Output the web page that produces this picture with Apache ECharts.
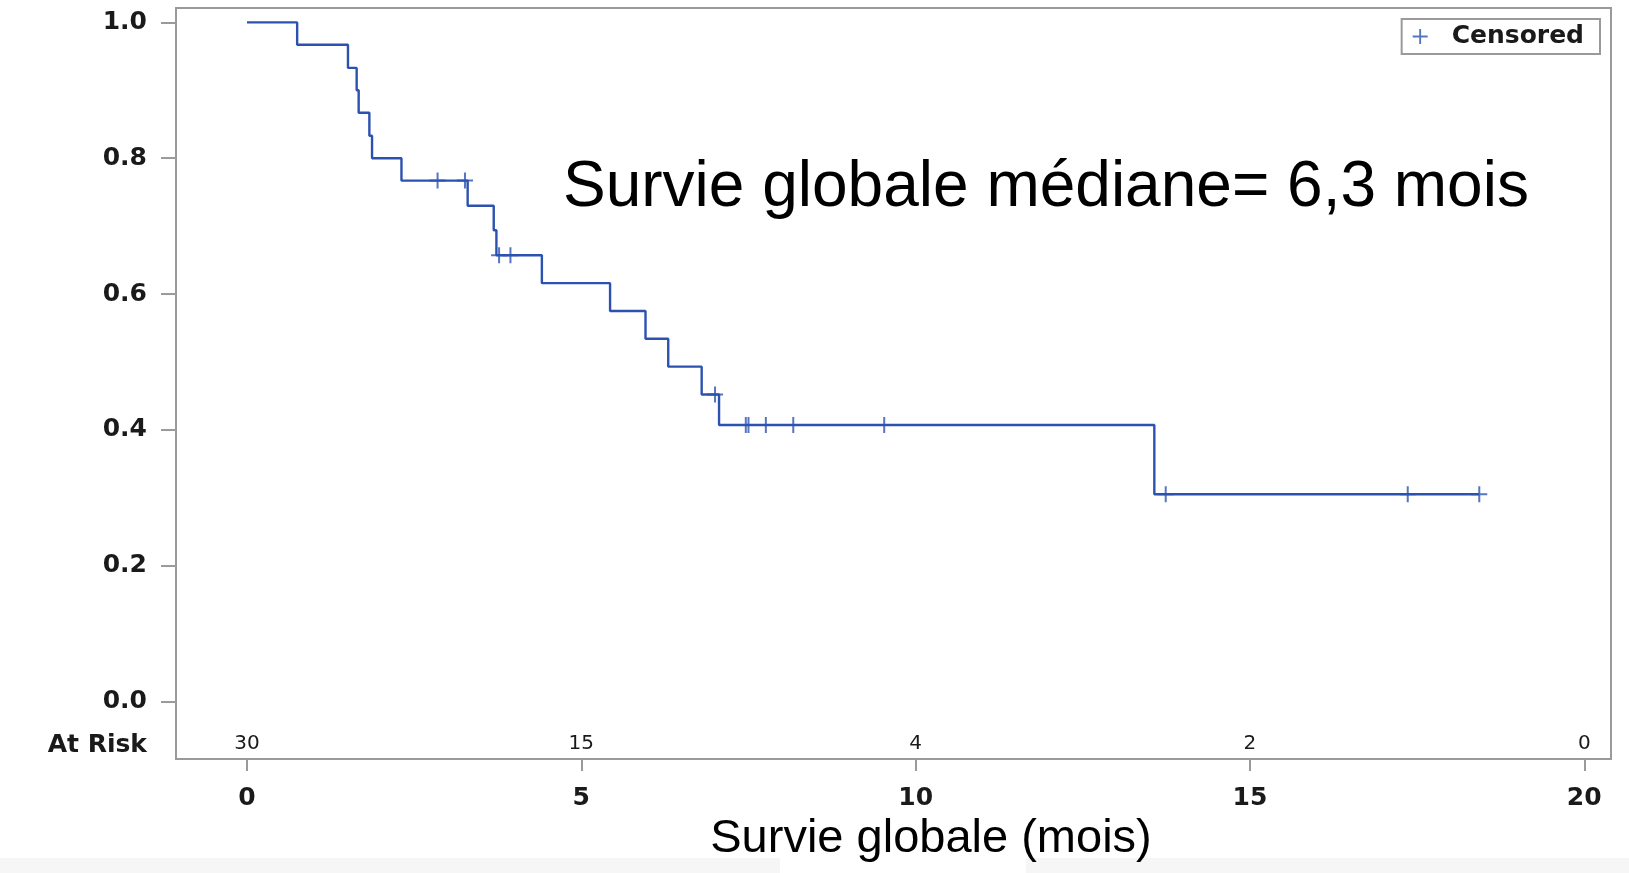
<!DOCTYPE html>
<html>
<head>
<meta charset="utf-8">
<script src="https://cdn.jsdelivr.net/npm/echarts@6/dist/echarts.min.js"></script>
<style>
  html, body { margin: 0; padding: 0; background: #ffffff; }
  #chart { width: 1629px; height: 873px; }
</style>
</head>
<body>
<div id="chart"></div>
<script>
// Kaplan-Meier step curve: event times (months) and survival after each event
const eventTimes    = [0, 0.75, 1.51, 1.64, 1.67, 1.83, 1.87, 2.31, 3.30, 3.69, 3.73, 4.41, 5.43, 5.96, 6.30, 6.80, 7.06, 13.57, 18.43];
const eventSurvival = [1.000, 0.967, 0.933, 0.900, 0.867, 0.833, 0.800, 0.767, 0.730, 0.694, 0.657, 0.616, 0.575, 0.534, 0.493, 0.452, 0.407, 0.305, 0.305];

// Censored observations
const censorTimes    = [2.85, 3.26, 3.77, 3.94, 7.00, 7.46, 7.50, 7.76, 8.17, 9.53, 13.74, 17.36, 18.43];
const censorSurvival = [0.767, 0.767, 0.657, 0.657, 0.452, 0.407, 0.407, 0.407, 0.407, 0.407, 0.305, 0.305, 0.305];

// Number at risk
const atRiskTimes  = [0, 5, 10, 15, 20];
const atRiskCounts = [30, 15, 4, 2, 0];

// Axis ticks
const xTicks = [0, 5, 10, 15, 20];
const yTicks = [0, 0.2, 0.4, 0.6, 0.8, 1.0];

const annotationText = 'Survie globale médiane= 6,3 mois';
const xAxisTitle = 'Survie globale (mois)';
const atRiskTitle = 'At Risk';
const censorName = 'Censored';

const lineColor = '#2c52b0';
const frameColor = '#9a9a9a';
const plusPath = 'path://M7,0H9V7H16V9H9V16H7V9H0V7H7Z';

const kmData = eventTimes.map((t, i) => [t, eventSurvival[i]]);
const censorData = censorTimes.map((t, i) => [t, censorSurvival[i]]);

const chart = echarts.init(document.getElementById('chart'), null, { renderer: 'canvas' });

const tickFont = { fontFamily: 'DejaVu Sans', fontSize: 25, fontWeight: 'bold', color: '#1a1a1a' };

chart.setOption({
  animation: false,
  backgroundColor: '#ffffff',
  grid: {
    left: 176, right: 18, top: 8, bottom: 114,
    show: true, borderColor: frameColor, borderWidth: 2, backgroundColor: 'transparent'
  },
  legend: {
    data: [censorName],
    right: 29, top: 19,
    icon: plusPath,
    itemWidth: 15, itemHeight: 15,
    padding: [5, 16, 5, 11],
    borderColor: frameColor, borderWidth: 2,
    selectedMode: false,
    textStyle: Object.assign({}, tickFont, { padding: [0, 0, 0, 19], lineHeight: 25 })
  },
  xAxis: [
    {
      type: 'value',
      min: -1.062, max: 20.40,
      position: 'bottom',
      axisLine: { show: false, onZero: false },
      splitLine: { show: false },
      axisTick: { show: true, length: 12, customValues: xTicks, lineStyle: { color: frameColor, width: 2 } },
      axisLabel: Object.assign({ customValues: xTicks, margin: 27 }, tickFont),
      name: xAxisTitle,
      nameLocation: 'middle',
      nameGap: 57,
      nameTextStyle: { fontFamily: 'Liberation Sans', fontSize: 47, color: '#000', padding: [0, 0, 0, 75] }
    },
    {
      type: 'value',
      min: -1.062, max: 20.40,
      position: 'bottom',
      offset: 0,
      axisLine: { show: false, onZero: false },
      splitLine: { show: false },
      axisTick: { show: false },
      axisLabel: {
        inside: true,
        customValues: atRiskTimes,
        margin: 5,
        fontFamily: 'DejaVu Sans', fontSize: 20, color: '#1a1a1a',
        formatter: function (v) {
          const idx = atRiskTimes.indexOf(v);
          return idx >= 0 ? String(atRiskCounts[idx]) : '';
        }
      }
    }
  ],
  yAxis: {
    type: 'value',
    min: -0.0848, max: 1.0212,
    axisLine: { show: false, onZero: false },
    splitLine: { show: false },
    axisTick: { show: true, length: 15, customValues: yTicks, lineStyle: { color: frameColor, width: 2 } },
    axisLabel: Object.assign({
      customValues: yTicks, margin: 29,
      formatter: function (v) { return v.toFixed(1); }
    }, tickFont)
  },
  series: [
    {
      name: 'KM',
      type: 'line',
      step: 'end',
      data: kmData,
      showSymbol: false,
      lineStyle: { color: lineColor, width: 2.4 },
      itemStyle: { color: lineColor },
      z: 3
    },
    {
      name: censorName,
      type: 'scatter',
      data: censorData,
      symbol: plusPath,
      symbolSize: 16,
      itemStyle: { color: lineColor },
      z: 4
    }
  ],
  graphic: [
    { type: 'rect', z: -10, shape: { x: 0, y: 858, width: 780, height: 15 }, style: { fill: '#f6f6f6' } },
    { type: 'rect', z: -10, shape: { x: 1026, y: 858, width: 603, height: 15 }, style: { fill: '#f6f6f6' } },
    {
      type: 'text', x: 563, y: 188,
      style: { text: annotationText, fontFamily: 'Liberation Sans', fontSize: 64, fill: '#000', verticalAlign: 'middle', align: 'left' }
    },
    {
      type: 'text', x: 147, y: 745,
      style: { text: atRiskTitle, verticalAlign: 'middle', align: 'right', fill: '#1a1a1a',
               fontFamily: 'DejaVu Sans', fontSize: 25, fontWeight: 'bold' }
    }
  ]
});
</script>
</body>
</html>
